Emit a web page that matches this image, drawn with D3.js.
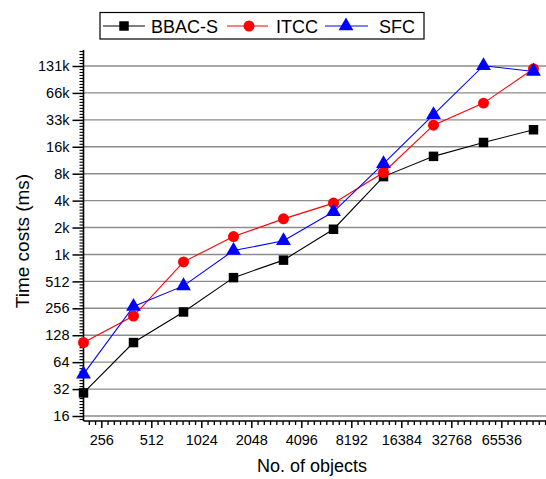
<!DOCTYPE html>
<html>
<head>
<meta charset="utf-8">
<script src="https://cdn.jsdelivr.net/npm/d3@7"></script>
<style>
  body { margin: 0; background: #fff; }
  svg text { font-family: Arial, "Liberation Sans", sans-serif; fill: #000; }
</style>
</head>
<body>
<div id="chart"></div>
<script>
// Data
const objects = [200, 400, 800, 1600, 3200, 6400, 12800, 25600, 51200, 102400];
const bbacS = [29, 106, 233, 564, 885, 1960, 7600, 12800, 18300, 25400];
const itcc  = [106, 210, 846, 1624, 2560, 3840, 8450, 28600, 50400, 122000];
const sfc   = [47, 268, 456, 1132, 1454, 3070, 10600, 37400, 132000, 114000];
const xTicks = [256, 512, 1024, 2048, 4096, 8192, 16384, 32768, 65536];
const yTicks = [16, 32, 64, 128, 256, 512, 1024, 2048, 4096, 8192, 16384, 32768, 65536, 131072];
const yTickLabels = ["16", "32", "64", "128", "256", "512", "1k", "2k", "4k", "8k", "16k", "33k", "66k", "131k"];

const series = [
    {name: "BBAC-S", values: bbacS, color: "#000000", symbol: d3.symbolSquare, size: 90},
    {name: "ITCC", values: itcc, color: "#ff0000", symbol: d3.symbolCircle, size: 95},
    {name: "SFC", values: sfc, color: "#0000ff", symbol: d3.symbolTriangle, size: 95}
];

const W = 546, H = 479;
const plot = {left: 83.5, right: 546, top: 50, bottom: 421};

const svg = d3.select("#chart").append("svg")
    .attr("width", W)
    .attr("height", H);

const x = d3.scaleLog().base(2)
    .domain([200, 200 * Math.pow(2, 9.25)])
    .range([plot.left, plot.right]);

const y = d3.scaleLog().base(2)
    .domain([16 * Math.pow(2, -5 / 26.92), 131072 * Math.pow(2, 16 / 26.92)])
    .range([plot.bottom, plot.top]);

// grid lines
svg.append("g")
    .selectAll("line")
    .data(yTicks)
    .join("line")
    .attr("x1", plot.left)
    .attr("x2", plot.right)
    .attr("y1", d => y(d))
    .attr("y2", d => y(d))
    .attr("stroke", "#8c8c8c")
    .attr("stroke-width", 1.4);

// minor tick positions, evenly spaced in log space
function minorTicks(scale, kFrom, kTo, n) {
    const dom = scale.domain();
    let out = [];
    for (let k = kFrom; k < kTo; k++) {
        for (let i = 1; i < n; i++) {
            const v = Math.pow(2, k + i / n);
            if (v >= dom[0] && v <= dom[1]) out.push(v);
        }
    }
    return out;
}

// x axis
svg.append("g")
    .attr("transform", "translate(0," + plot.bottom + ")")
    .call(d3.axisBottom(x).tickValues(minorTicks(x, 7, 17, 8)).tickFormat("").tickSize(4).tickSizeOuter(0))
    .call(g => g.select(".domain").remove())
    .selectAll("line").attr("stroke-width", 1.3);

const xAxis = svg.append("g")
    .attr("transform", "translate(0," + plot.bottom + ")")
    .call(d3.axisBottom(x).tickValues(xTicks).tickFormat(d3.format("d")).tickSize(7).tickSizeOuter(0).tickPadding(7));
xAxis.select(".domain").attr("stroke-width", 1.6).attr("d", "M" + plot.left + ",0H" + plot.right);
xAxis.selectAll("line").attr("stroke-width", 1.5);
xAxis.selectAll("text").style("font-size", "14.5px").attr("fill", "#000");

// y axis
svg.append("g")
    .attr("transform", "translate(" + plot.left + ",0)")
    .call(d3.axisLeft(y).tickValues(minorTicks(y, 3, 18, 9)).tickFormat("").tickSize(4).tickSizeOuter(0))
    .call(g => g.select(".domain").remove())
    .selectAll("line").attr("stroke-width", 1.1);

const yAxis = svg.append("g")
    .attr("transform", "translate(" + plot.left + ",0)")
    .call(d3.axisLeft(y).tickValues(yTicks).tickFormat((d, i) => yTickLabels[i]).tickSize(11).tickSizeOuter(0).tickPadding(3));
yAxis.select(".domain").attr("stroke-width", 1.6).attr("d", "M0," + plot.bottom + "V" + plot.top);
yAxis.selectAll("line").attr("stroke-width", 1.5);
yAxis.selectAll("text").style("font-size", "14.5px").attr("fill", "#000");

// axis titles
svg.append("text")
    .attr("x", 312)
    .attr("y", 472)
    .attr("text-anchor", "middle")
    .style("font-size", "18px")
    .text("No. of objects");

svg.append("text")
    .attr("transform", "translate(29," + 241 + ") rotate(-90)")
    .attr("text-anchor", "middle")
    .style("font-size", "19px")
    .text("Time costs (ms)");

// lines and markers
const line = d3.line()
    .x((d, i) => x(objects[i]))
    .y(d => y(d));

series.forEach(function(s) {
    const g = svg.append("g");
    g.append("path")
        .datum(s.values)
        .attr("fill", "none")
        .attr("stroke", s.color)
        .attr("stroke-width", 1.1)
        .attr("d", line);
    g.selectAll("path.mark")
        .data(s.values)
        .join("path")
        .attr("class", "mark")
        .attr("transform", (d, i) => "translate(" + x(objects[i]) + "," + y(d) + ")")
        .attr("d", d3.symbol().type(s.symbol).size(s.size))
        .attr("fill", s.color);
});

// legend
const legend = svg.append("g");
legend.append("rect")
    .attr("x", 100)
    .attr("y", 12.5)
    .attr("width", 324)
    .attr("height", 26.5)
    .attr("fill", "#fff")
    .attr("stroke", "#000")
    .attr("stroke-width", 1.2);

const legendPos = [
    {x1: 103, x2: 145, m: 124, t: 151},
    {x1: 227, x2: 268, m: 249, t: 276},
    {x1: 325, x2: 368, m: 346, t: 379}
];

series.forEach(function(s, i) {
    const p = legendPos[i];
    legend.append("line")
        .attr("x1", p.x1).attr("x2", p.x2)
        .attr("y1", 26).attr("y2", 26)
        .attr("stroke", s.color)
        .attr("stroke-width", 1.1);
    legend.append("path")
        .attr("transform", "translate(" + p.m + ",26)")
        .attr("d", d3.symbol().type(s.symbol).size(s.size))
        .attr("fill", s.color);
    legend.append("text")
        .attr("x", p.t)
        .attr("y", 32.5)
        .style("font-size", "18px")
        .text(s.name);
});
</script>
</body>
</html>
